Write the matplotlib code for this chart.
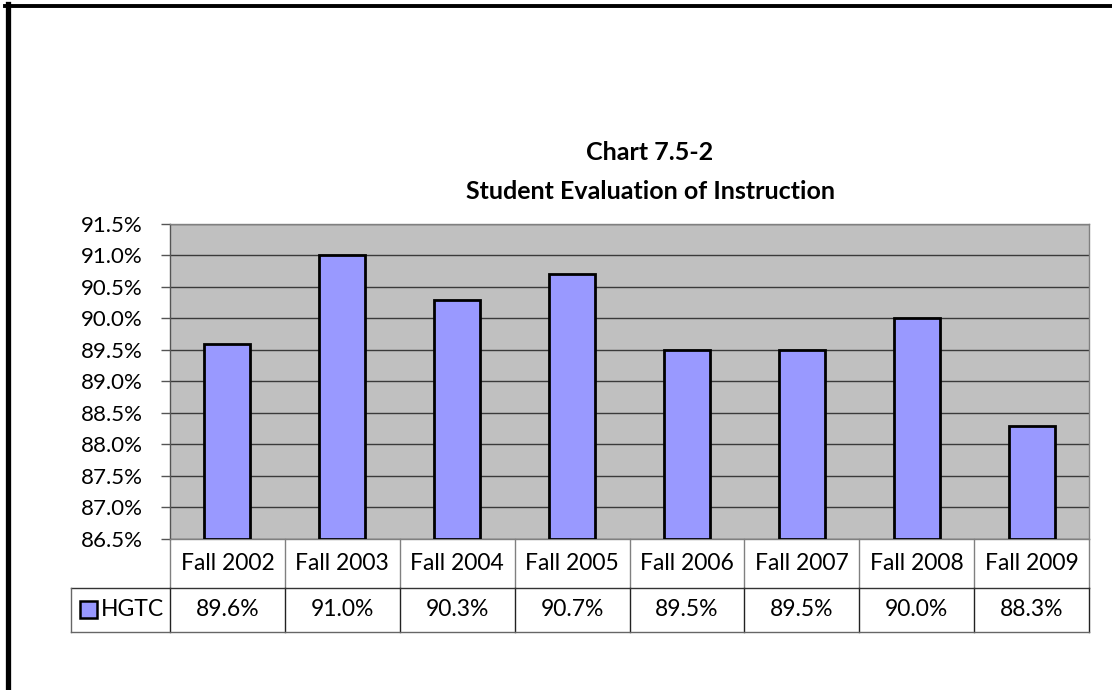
import numpy as np
import matplotlib
matplotlib.use("Agg")
import matplotlib.pyplot as plt
from matplotlib.lines import Line2D
from matplotlib.patches import Rectangle
from matplotlib.transforms import blended_transform_factory

categories = ["Fall 2002", "Fall 2003", "Fall 2004", "Fall 2005",
              "Fall 2006", "Fall 2007", "Fall 2008", "Fall 2009"]
hgtc = [0.896, 0.910, 0.903, 0.907, 0.895, 0.895, 0.900, 0.883]
series_name = "HGTC"
yticks = [0.865, 0.870, 0.875, 0.880, 0.885, 0.890, 0.895, 0.900, 0.905, 0.910, 0.915]
title = "Chart 7.5-2\nStudent Evaluation of Instruction"

W, H = 1112, 690
plt.rcParams["font.family"] = ["Lato", "DejaVu Sans"]

fig = plt.figure(figsize=(W / 100, H / 100), dpi=100)
fig.patch.set_facecolor("white")

# plot area in pixels
left, right, top, bottom = 170, 1089, 224, 539
ax = fig.add_axes([left / W, 1 - bottom / H, (right - left) / W, (bottom - top) / H])
ax.set_facecolor("#C0C0C0")

base = yticks[0]
x = np.arange(len(categories))
vals = np.array(hgtc)
ax.bar(x, vals - base, bottom=base, width=0.4, color="#9999FF",
       edgecolor="black", linewidth=2, zorder=3)

ax.set_xlim(-0.5, len(categories) - 0.5)
ax.set_ylim(yticks[0], yticks[-1])
ax.set_yticks(yticks)
ax.set_yticklabels([f"{v:.1%}" for v in yticks], fontsize=16)
ax.set_xticks([])
ax.yaxis.grid(True, color="#3a3a3a", linewidth=1, zorder=0)
ax.set_axisbelow(True)
ax.tick_params(axis="y", length=6.5, width=1, color="#555555", pad=13)
for s in ax.spines.values():
    s.set_color("#808080")
    s.set_linewidth(1)
ax.spines["left"].set_color("#555555")

# data table below the plot
tr = blended_transform_factory(ax.transData, fig.transFigure)
tra = blended_transform_factory(ax.transAxes, fig.transFigure)
y0, y1, y2 = 1 - 539 / H, 1 - 588 / H, 1 - 632 / H
n = len(categories)
for k in range(n + 1):
    ax.add_line(Line2D([k - 0.5, k - 0.5], [y1, y0], transform=tr, color="#808080",
                       lw=1, clip_on=False))
    ax.add_line(Line2D([k - 0.5, k - 0.5], [y2, y1], transform=tr, color="#222222",
                       lw=1, clip_on=False))
legx = (71 - left) / (right - left)
ax.add_line(Line2D([legx, 1], [y1, y1], transform=tra, color="#333333", lw=1, clip_on=False))
ax.add_line(Line2D([legx, 1], [y2, y2], transform=tra, color="#666666", lw=1, clip_on=False))
ax.add_line(Line2D([legx, legx], [y2, y1], transform=tra, color="#666666", lw=1, clip_on=False))

for i, (c, v) in enumerate(zip(categories, hgtc)):
    ax.text(i, (y0 + y1) / 2, c, transform=tr, ha="center", va="center", fontsize=16.5)
    ax.text(i, (y1 + y2) / 2, f"{v:.1%}", transform=tr, ha="center", va="center", fontsize=16.5)

# legend key in the table
fig.add_artist(Rectangle((80 / W, 1 - 618 / H), 17 / W, 17 / H, facecolor="#9999FF",
                         edgecolor="black", lw=1.8, transform=fig.transFigure))
fig.text(101 / W, (y1 + y2) / 2, series_name, ha="left", va="center", fontsize=16.5)

fig.text(650 / W, 1 - 172 / H, title, ha="center", va="center", fontsize=18,
         fontweight="bold", linespacing=1.85)

# outer border (left and top only visible)
fig.add_artist(Line2D([7.5 / W, 7.5 / W], [0, 1 - 4 / H], color="black", lw=3.8,
                      transform=fig.transFigure))
fig.add_artist(Line2D([5 / W, 1], [1 - 5.5 / H, 1 - 5.5 / H], color="black", lw=2.8,
                      transform=fig.transFigure))

fig.savefig("out.png", dpi=100)
